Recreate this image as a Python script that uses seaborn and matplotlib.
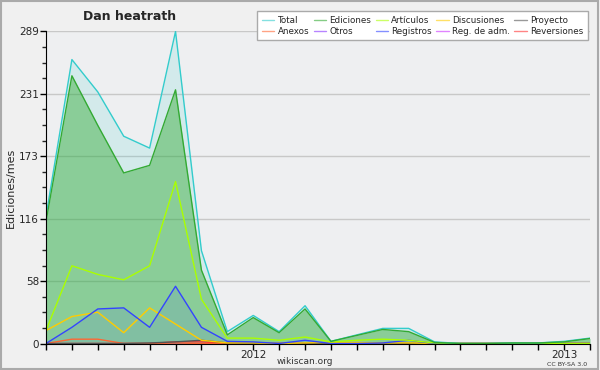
import numpy as np
import pandas as pd
import matplotlib
matplotlib.use("Agg")
import matplotlib.pyplot as plt
import seaborn as sns

# months from May 2011 to Feb 2013
months = pd.date_range("2011-05-01", "2013-02-01", freq="MS")

total = [118, 263, 233, 192, 181, 289, 86, 11, 26, 11, 35, 2, 8, 14, 14, 1.5, 0, 0, 0.5, 0.5, 2, 5]
ediciones = [113, 248, 202, 158, 165, 235, 68, 8, 24, 10, 32, 2, 7.5, 13, 11, 1, 0, 0, 0.5, 0.5, 1.5, 4.6]
articulos = [12, 72, 64, 59, 72, 150, 41, 5, 5, 3, 6, 1.5, 3, 4, 3, 0.5, 0, 0, 0, 0, 0, 0]
discusiones = [12, 25, 29, 10, 33, 18, 3, 0.5, 0.5, 0, 0.5, 1, 1, 0.5, 0.5, 0, 0, 0, 0, 0, 0, 0]
proyecto = [0, 0, 0, 0, 0.5, 1.5, 3, 0.5, 0, 0, 0, 0, 0, 0, 0, 0, 0, 0, 0, 0, 0, 0]
anexos = [0, 4, 4, 0, 0, 0.5, 0, 0, 0, 0, 0, 0, 0, 0, 0, 0, 0, 0, 0, 0, 0, 0]
otros = [0] * 22
registros = [0, 15, 32, 33, 15, 53, 15, 2, 1.5, 0, 3, 0, 0, 0.5, 3, 0, 0, 0, 0, 0, 0, 0]
reg_adm = [0] * 22
reversiones = [0, 0, 0, 0, 0, 1.5, 1.5, 0, 0, 0, 0, 0, 0, 0, 0, 0, 0, 0, 0, 0, 0, 0]

y_ticks = [0, 57.8, 115.6, 173.4, 231.2, 289]
y_labels = ["0", "58", "116", "173", "231", "289"]

series = {
    "Total": total, "Ediciones": ediciones, "Artículos": articulos,
    "Discusiones": discusiones, "Proyecto": proyecto, "Anexos": anexos,
    "Otros": otros, "Registros": registros, "Reg. de adm.": reg_adm,
    "Reversiones": reversiones,
}
colors = {
    "Total": "#33cccc", "Ediciones": "#33aa33", "Artículos": "#aaff00",
    "Discusiones": "#ffcc00", "Proyecto": "#555555", "Anexos": "#ff6633",
    "Otros": "#8833ff", "Registros": "#3344ff", "Reg. de adm.": "#cc33ff",
    "Reversiones": "#ff3333",
}

df = pd.DataFrame({"Mes": np.tile(np.arange(len(months)), len(series)),
                   "Tipo": np.repeat(list(series.keys()), len(months)),
                   "Ediciones": np.concatenate([series[k] for k in series])})

sns.set_style("white")
plt.rcParams["font.family"] = ["DejaVu Sans"]
fig = plt.figure(figsize=(6, 3.7), dpi=100, facecolor="#f0f0f0")
ax = fig.add_axes([46 / 600, 1 - 343.5 / 370, 544 / 600, 312 / 370])
ax.set_facecolor("#eeeff1")

x = np.arange(len(months))
ax.fill_between(x, total, color="#33cccc", alpha=0.14, lw=0)
ax.fill_between(x, ediciones, color="#33aa33", alpha=0.45, lw=0)
ax.fill_between(x, registros, color="#3344ff", alpha=0.10, lw=0)

# draw back to front so Total stays on top like the original
order = ["Reg. de adm.", "Otros", "Reversiones", "Anexos", "Proyecto",
         "Discusiones", "Registros", "Artículos", "Total", "Ediciones"]
for name in order:
    sns.lineplot(data=df[df["Tipo"] == name], x="Mes", y="Ediciones",
                 color=colors[name], lw=1, ax=ax, legend=False)

ax.set_xlim(0, len(months) - 1)
ax.set_ylim(0, 289)
ax.set_yticks(y_ticks)
ax.set_yticklabels(y_labels)
ax.set_yticks(np.arange(0, 289.1, 289 / 20), minor=True)
ax.set_xticks(x)
ax.set_xticklabels([str(m.year) if m.month == 1 else "" for m in months])
ax.yaxis.grid(True, color="#c8c8c8", lw=1)
ax.set_axisbelow(True)
ax.tick_params(axis="both", which="major", direction="out", length=4, width=1,
               labelsize=7.5, color="black", left=True, bottom=True, pad=1)
ax.tick_params(axis="y", which="minor", direction="out", length=3, width=1, left=True)
for s in ["top", "right"]:
    ax.spines[s].set_visible(False)
ax.spines["left"].set_color("black")
ax.spines["bottom"].set_color("black")
ax.set_xlabel("")
ax.set_ylabel("Ediciones/mes", fontsize=8)
ax.yaxis.set_label_coords(-30 / 544, 0.5)

fig.text(130 / 600, 1 - 17 / 370, "Dan heatrath", fontsize=9, fontweight="bold",
         ha="center", va="center")
fig.text(305 / 600, 1 - 361 / 370, "wikiscan.org", fontsize=6.5, ha="center",
         va="center", color="#333333")
fig.text(567 / 600, 1 - 364 / 370, "CC BY-SA 3.0", fontsize=4.5, ha="center",
         va="center", color="#333333")

leg_order = ["Total", "Anexos", "Ediciones", "Otros", "Artículos", "Registros",
             "Discusiones", "Reg. de adm.", "Proyecto", "Reversiones"]
handles = [plt.Line2D([], [], color=colors[n], lw=1, alpha=0.6) for n in leg_order]
fig.legend(handles, leg_order, loc="upper right", ncol=5,
           bbox_to_anchor=(592 / 600, 1 - 7 / 370), fontsize=6.3,
           frameon=True, fancybox=False, edgecolor="#aaaaaa", facecolor="white",
           framealpha=1, handlelength=1.4, handletextpad=0.4, columnspacing=0.5,
           labelspacing=0.25, borderpad=0.5)

fig.patches.append(plt.Rectangle((0.002, 0.003), 0.995, 0.994, transform=fig.transFigure,
                                 fill=False, edgecolor="#aaaaaa", lw=1.5))
fig.savefig("out.png", dpi=100, facecolor=fig.get_facecolor())
